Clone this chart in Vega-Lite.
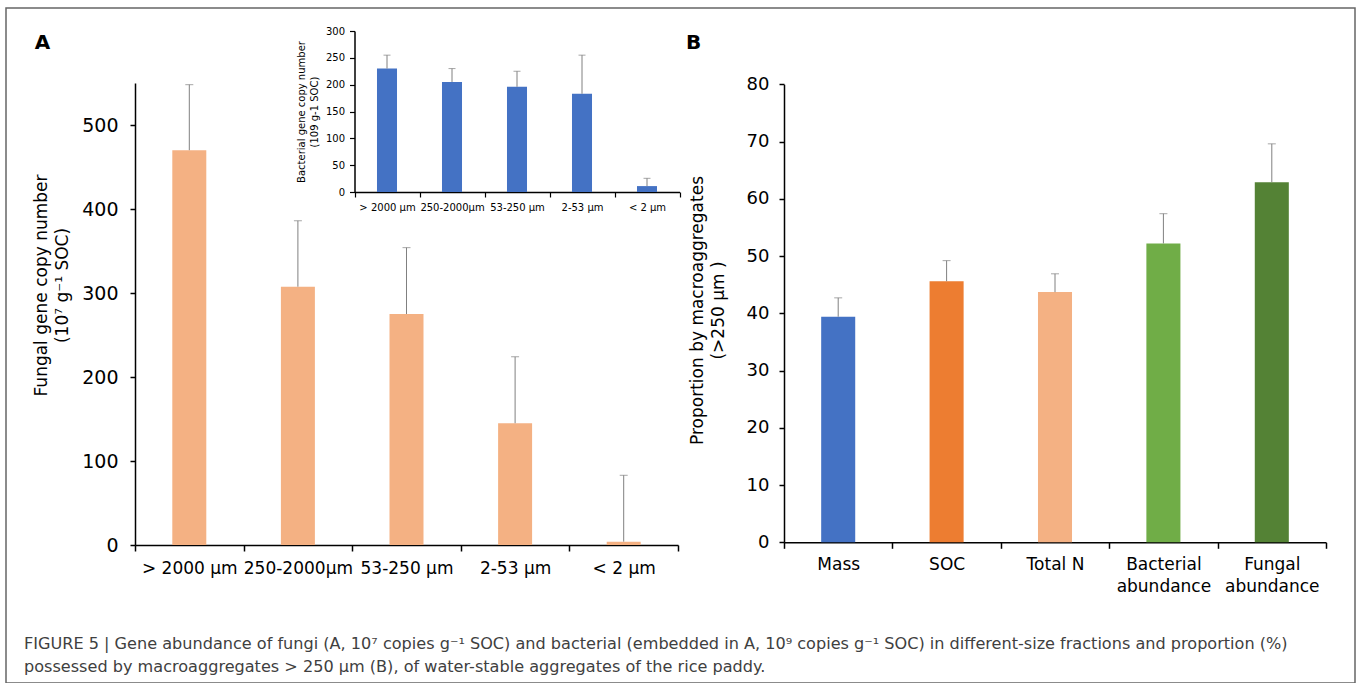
{
  "$schema": "https://vega.github.io/schema/vega-lite/v6.json",
  "width": 1349,
  "height": 675,
  "autosize": "none",
  "padding": {"left": 6, "top": 8, "right": 3, "bottom": 0},
  "background": "white",
  "config": {
    "view": {"stroke": "#666666", "strokeWidth": 1.5},
    "font": "DejaVu Sans",
    "axis": {
      "domainColor": "#000000", "domainWidth": 1.5,
      "tickColor": "#000000", "tickWidth": 1.5,
      "labelColor": "#000000", "titleColor": "#000000",
      "grid": false, "labelFont": "DejaVu Sans", "titleFont": "DejaVu Sans",
      "titleFontWeight": "normal", "labelOverlap": false
    }
  },
  "title": {
    "text": ["FIGURE 5 | Gene abundance of fungi (A, 10⁷ copies g⁻¹ SOC) and bacterial (embedded in A, 10⁹ copies g⁻¹ SOC) in different-size fractions and proportion (%)", "possessed by macroaggregates > 250 μm (B), of water-stable aggregates of the rice paddy."],
    "orient": "bottom", "anchor": "start", "frame": "group", "offset": -47, "dx": 18, "baseline": "top",
    "fontSize": 16.1, "fontWeight": "normal", "color": "#404040", "lineHeight": 23, "font": "DejaVu Sans"
  },
  "datasets": {
    "fungi": [
      {"fraction": "> 2000 μm", "value": 470, "upper": 548},
      {"fraction": "250-2000μm", "value": 307.5, "upper": 386},
      {"fraction": "53-250 μm", "value": 275, "upper": 354},
      {"fraction": "2-53 μm", "value": 145, "upper": 224},
      {"fraction": "< 2 μm", "value": 4, "upper": 83}
    ],
    "bacteria": [
      {"fraction": "> 2000 μm", "value": 230, "upper": 255},
      {"fraction": "250-2000μm", "value": 205, "upper": 230},
      {"fraction": "53-250 μm", "value": 196, "upper": 225},
      {"fraction": "2-53 μm", "value": 183, "upper": 255},
      {"fraction": "< 2 μm", "value": 11, "upper": 25.5}
    ],
    "proportion": [
      {"item": "Mass", "value": 39.4, "upper": 42.7},
      {"item": "SOC", "value": 45.6, "upper": 49.2},
      {"item": "Total N", "value": 43.7, "upper": 46.9},
      {"item": "Bacterial abundance", "value": 52.2, "upper": 57.4},
      {"item": "Fungal abundance", "value": 62.9, "upper": 69.6}
    ]
  },
  "resolve": {"scale": {"x": "independent", "y": "independent"}, "axis": {"x": "independent", "y": "independent"}},
  "layer": [
    {
      "data": {"name": "fungi"},
      "encoding": {
        "x": {
          "field": "fraction", "type": "nominal", "sort": null,
          "scale": {"range": [129, 672], "paddingInner": 0, "paddingOuter": 0},
          "axis": {
            "orient": "bottom", "offset": -138, "tickBand": "extent", "tickSize": 6,
            "labelPadding": 9, "labelFontSize": 17, "labelAngle": 0,
            "title": "A", "titleX": 36, "titleY": -503, "titleAlign": "center", "titleBaseline": "middle",
            "titleFontSize": 20, "titleFontWeight": "bold", "titleAngle": 0
          }
        }
      },
      "layer": [
        {
          "mark": {"type": "bar", "color": "#F4B183", "width": {"band": 0.313}},
          "encoding": {
            "y": {
              "field": "value", "type": "quantitative",
              "scale": {"domain": [0, 550], "range": [537, 75], "nice": false},
              "axis": {
                "orient": "left", "offset": -129, "values": [0, 100, 200, 300, 400, 500],
                "tickSize": 5, "labelPadding": 12, "labelFontSize": 19,
                "title": ["Fungal gene copy number", "(10⁷ g⁻¹ SOC)"],
                "titleFontSize": 17, "titleLineHeight": 21,
                "titleX": -94, "titleY": 277, "titleAngle": -90, "titleAlign": "center", "titleBaseline": "middle"
              }
            }
          }
        },
        {
          "mark": {"type": "rule", "color": "#808080", "strokeWidth": 1},
          "encoding": {"y": {"field": "value", "type": "quantitative"}, "y2": {"field": "upper"}}
        },
        {
          "mark": {"type": "tick", "color": "#808080", "thickness": 1, "size": 8},
          "encoding": {"y": {"field": "upper", "type": "quantitative"}}
        }
      ]
    },
    {
      "data": {"name": "bacteria"},
      "encoding": {
        "x": {
          "field": "fraction", "type": "nominal", "sort": null,
          "scale": {"range": [348.5, 673.5], "paddingInner": 0, "paddingOuter": 0},
          "axis": {
            "orient": "bottom", "offset": -491, "tickBand": "extent", "tickSize": 5, "tickWidth": 1.2,
            "labelPadding": 5, "labelFontSize": 10, "labelAngle": 0, "title": null
          }
        }
      },
      "layer": [
        {
          "mark": {"type": "bar", "color": "#4472C4", "width": {"band": 0.308}},
          "encoding": {
            "y": {
              "field": "value", "type": "quantitative",
              "scale": {"domain": [0, 300], "range": [184, 23], "nice": false},
              "axis": {
                "orient": "left", "offset": -348.5, "values": [0, 50, 100, 150, 200, 250, 300],
                "tickSize": 5, "tickWidth": 1.2, "labelPadding": 5, "labelFontSize": 10,
                "title": ["Bacterial gene copy number", "(109 g-1 SOC)"],
                "titleFontSize": 10, "titlePadding": 6, "titleLineHeight": 13
              }
            }
          }
        },
        {
          "mark": {"type": "rule", "color": "#808080", "strokeWidth": 1},
          "encoding": {"y": {"field": "value", "type": "quantitative"}, "y2": {"field": "upper"}}
        },
        {
          "mark": {"type": "tick", "color": "#808080", "thickness": 1, "size": 7},
          "encoding": {"y": {"field": "upper", "type": "quantitative"}}
        }
      ]
    },
    {
      "data": {"name": "proportion"},
      "encoding": {
        "x": {
          "field": "item", "type": "nominal", "sort": null,
          "scale": {"range": [778, 1320], "paddingInner": 0, "paddingOuter": 0},
          "axis": {
            "orient": "bottom", "offset": -140.7, "tickBand": "extent", "tickSize": 6,
            "labelPadding": 8, "labelFontSize": 17, "labelAngle": 0, "labelLineHeight": 22,
            "labelExpr": "indexof(datum.label, 'abundance') > 0 ? split(datum.label, ' ') : datum.label",
            "title": "B", "titleX": 687, "titleY": -500.3, "titleAlign": "center", "titleBaseline": "middle",
            "titleFontSize": 20, "titleFontWeight": "bold", "titleAngle": 0
          }
        }
      },
      "layer": [
        {
          "mark": {"type": "bar", "width": {"band": 0.314}},
          "encoding": {
            "y": {
              "field": "value", "type": "quantitative",
              "scale": {"domain": [0, 80], "range": [534.3, 76.3], "nice": false},
              "axis": {
                "orient": "left", "offset": -778, "values": [0, 10, 20, 30, 40, 50, 60, 70, 80],
                "tickSize": 5, "labelPadding": 10, "labelFontSize": 18,
                "title": ["Proportion by macroaggregates", "(>250 μm )"],
                "titleFontSize": 17, "titleLineHeight": 21,
                "titleX": -87, "titleY": 302, "titleAngle": -90, "titleAlign": "center", "titleBaseline": "middle"
              }
            },
            "color": {
              "field": "item", "type": "nominal", "sort": null,
              "scale": {"domain": ["Mass", "SOC", "Total N", "Bacterial abundance", "Fungal abundance"], "range": ["#4472C4", "#ED7D31", "#F4B183", "#70AD47", "#548235"]},
              "legend": null
            }
          }
        },
        {
          "mark": {"type": "rule", "color": "#808080", "strokeWidth": 1},
          "encoding": {"y": {"field": "value", "type": "quantitative"}, "y2": {"field": "upper"}}
        },
        {
          "mark": {"type": "tick", "color": "#808080", "thickness": 1, "size": 8},
          "encoding": {"y": {"field": "upper", "type": "quantitative"}}
        }
      ]
    }
  ]
}
